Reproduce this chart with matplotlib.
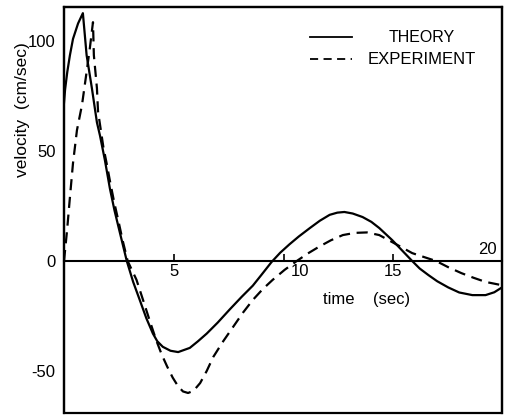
import matplotlib
matplotlib.use("Agg")
import matplotlib.pyplot as plt
from matplotlib.lines import Line2D

plt.rcParams['font.family'] = ['Liberation Sans', 'DejaVu Sans']
plt.rcParams['axes.unicode_minus'] = False

# Theory (solid)
theory_t = [0.0, 0.05, 0.15, 0.27, 0.41, 0.64, 0.86, 1.03, 1.27, 1.5, 1.64, 1.86, 2.09,
            2.3, 2.55, 2.86, 3.15, 3.45, 3.75, 4.05, 4.25, 4.5, 4.85, 5.2, 5.73, 6.1,
            6.5, 7.0, 7.55, 8.1, 8.6, 9.0, 9.45, 9.85, 10.27, 10.7, 11.2, 11.65, 12.1,
            12.45, 12.77, 13.15, 13.6, 14.0, 14.36, 14.95, 15.4, 15.86, 16.2, 16.6,
            17.0, 17.5, 18.0, 18.6, 19.2, 19.6, 19.95]
theory_v = [72, 78, 86, 93.6, 101, 108, 112.7, 93.6, 78.6, 63, 57, 46, 33,
            23, 12.7, 0, -9.5, -17.7, -26, -33, -36.5, -39, -40.8, -41.4, -39.5, -36.5,
            -33, -28, -22, -16.2, -11.2, -6.2, -0.5, 3.8, 7.6, 11.2, 15, 18.3, 21,
            22, 22.3, 21.6, 20, 17.8, 15, 9.5, 4.8, 0, -3.4, -6.4,
            -9.2, -12, -14.3, -15.5, -15.5, -14.2, -12]

# Experiment (dashed)
exp_t = [0.0, 0.14, 0.27, 0.41, 0.59, 0.82, 1.03, 1.18, 1.32, 1.36, 1.5, 1.55, 1.64,
         1.79, 1.95, 2.1, 2.28, 2.47, 2.68, 2.9, 3.3, 3.6, 3.9, 4.2, 4.45, 4.7, 4.95,
         5.2, 5.42, 5.65, 5.9, 6.2, 6.5, 6.8, 7.25, 7.7, 8.15, 8.6, 9.05, 9.5, 10.05,
         10.6, 11.1, 11.6, 12.15, 12.7, 13.25, 13.8, 14.36, 14.95, 15.86, 16.4,
         16.95, 17.5, 18.1, 18.65, 19.2, 19.95]
exp_v = [0, 14, 29, 44.5, 59.5, 71, 86, 97, 108.6, 93.6, 78.6, 68, 62,
         52, 44, 36, 27, 18.6, 9, 0, -8.5, -17.7, -27, -36, -42.5, -48, -53,
         -57, -59.3, -60, -59, -55.5, -50, -43.6, -36.5, -30, -23.5, -17.7, -12.8, -8.6, -4,
         0, 3.4, 6.4, 9.4, 11.8, 12.8, 13, 11.8, 8.6, 3.6, 1.8,
         0, -2.8, -5.5, -7.6, -9.5, -11]

x_ticks = [5, 10, 15]
x_tick_labels = ['5', '', '15']
y_ticks = [100, 50, 0, -50]
y_tick_labels = ['100', '50', '0', '-50']

fig = plt.figure(figsize=(5.11, 4.15), dpi=100)
ax = fig.add_axes([64/511, 2/415, 438/511, 406/415])
ax.set_xlim(0, 19.95)
ax.set_ylim(-69.1, 115.5)

ax.plot(theory_t, theory_v, color='black', lw=1.6, solid_joinstyle='round')
ax.plot(exp_t, exp_v, color='black', lw=1.6, dashes=(5, 3))

# frame
ax.patch.set_edgecolor('black')
ax.patch.set_linewidth(1.6)
for s in ['top', 'right', 'left']:
    ax.spines[s].set_linewidth(1.6)
ax.spines['bottom'].set_position(('data', 0))
ax.spines['bottom'].set_linewidth(1.5)

ax.set_xticks(x_ticks)
ax.set_xticklabels(x_tick_labels)
ax.tick_params(axis='x', direction='in', length=5, width=1.2, pad=2, labelsize=12)
ax.set_yticks(y_ticks)
ax.set_yticklabels(y_tick_labels)
ax.tick_params(axis='y', length=0, pad=6, labelsize=12)

ax.text(10.75, -1.2, '10', ha='center', va='top', fontsize=12)
ax.text(19.3, 1.8, '20', ha='center', va='bottom', fontsize=12)
ax.text(13.8, -17.7, 'time    (sec)', ha='center', va='center', fontsize=12)

fig.text(23/511, 1 - 110/415, 'velocity  (cm/sec)', rotation=90,
         ha='center', va='center', fontsize=12.5)

# legend
leg_y1 = 1 - (37 - 7) / 406
leg_y2 = 1 - (59 - 7) / 406
x0 = (310 - 64) / 438
x1 = (352 - 64) / 438
ax.add_line(Line2D([x0, x1], [leg_y1, leg_y1], transform=ax.transAxes, color='black', lw=1.3))
ax.add_line(Line2D([x0, x1], [leg_y2, leg_y2], transform=ax.transAxes, color='black', lw=1.3,
                   dashes=(4.5, 3)))
xt = (422 - 64) / 438
ax.text(xt, leg_y1, 'THEORY', transform=ax.transAxes, ha='center', va='center', fontsize=11.5)
ax.text(xt, leg_y2, 'EXPERIMENT', transform=ax.transAxes, ha='center', va='center', fontsize=12)

fig.savefig('out.png', dpi=100)
